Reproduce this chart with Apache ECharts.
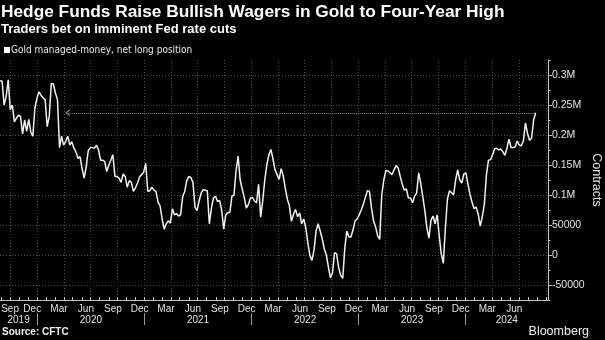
<!DOCTYPE html>
<html><head><meta charset="utf-8">
<script src="https://cdn.jsdelivr.net/npm/echarts@6/dist/echarts.min.js"></script>
<style>html,body{margin:0;padding:0;background:#000;}#c{width:605px;height:340px;}</style>
</head><body><div id="c"></div>
<script>
const titleText = 'Hedge Funds Raise Bullish Wagers in Gold to Four-Year High';
const subtitleText = 'Traders bet on imminent Fed rate cuts';
const seriesName = 'Gold managed-money, net long position';
const sourceText = 'Source: CFTC';
const brandText = 'Bloomberg';
const yAxisName = 'Contracts';

// Weekly CFTC report dates start here (Tuesdays), one value per week
const firstReport = [2019, 8, 27];
// Net long position, thousands of contracts
const netLongK = [
 290,290,250,264,292,242,250,222,228,233,231,202,225,206,226,205,198,245,261,272,
 266,262,259,214,231,286,285,270,259,179,198,183,189,198,183,189,178,172,161,164,
 144,128,147,174,179,179,178,183,175,158,158,156,139,150,158,167,131,131,128,121,
 135,131,113,124,121,106,112,120,130,134,138,153,106,107,113,108,106,88,82,60,
 43,52,57,53,77,67,69,65,67,97,106,124,131,129,121,80,74,90,103,109,
 108,107,52,78,95,98,89,91,75,43,67,71,71,98,100,140,165,125,110,96,
 78,84,95,96,90,87,118,63,90,125,150,167,176,160,142,134,126,144,132,111,
 93,82,56,68,76,64,70,52,60,45,20,-1,-9,8,40,52,40,27,10,0,
 -20,-38,-30,4,2,-21,-34,-39,12,40,30,30,42,57,60,67,75,84,96,107,
 106,78,57,47,32,26,100,125,141,140,137,134,142,149,145,131,118,108,110,95,
 95,87,98,103,137,119,97,74,45,28,58,65,52,67,32,2,-14,45,93,107,
 104,100,125,142,125,120,135,137,118,101,88,77,80,68,48,64,85,134,158,159,
 167,177,178,175,177,172,166,178,193,179,179,180,190,183,182,190,220,203,191,195,
 225,237
];

const axisStart = [2019, 8, 27];
const axisEnd = [2024, 10, 8];

const quarterLabelDates = [
 [2019,9,15],[2019,12,15],[2020,3,15],[2020,6,15],[2020,9,15],[2020,12,15],
 [2021,3,15],[2021,6,15],[2021,9,15],[2021,12,15],[2022,3,15],[2022,6,15],
 [2022,9,15],[2022,12,15],[2023,3,15],[2023,6,15],[2023,9,15],[2023,12,15],
 [2024,3,15],[2024,6,15]
];
const monthAbbr = ['Jan','Feb','Mar','Apr','May','Jun','Jul','Aug','Sep','Oct','Nov','Dec'];
const yearLabels = [2019, 2020, 2021, 2022, 2023, 2024];

const yTickValues = [-50, 0, 50, 100, 150, 200, 250, 300];
const yTickLabels = ['-50000', '0', '50000', '0.1M', '0.15M', '0.2M', '0.25M', '0.3M'];
const yMinK = -75, yMaxK = 325, yMinorStepK = 25;

const highLevelK = 237;
const highArrowFrom = [2020, 4, 14];

// ---- helpers ----
const ts = (a) => new Date(a[0], a[1] - 1, a[2]).getTime();
const tMin = ts(axisStart), tMax = ts(axisEnd);
const reportTimes = netLongK.map((_, i) => new Date(firstReport[0], firstReport[1] - 1, firstReport[2] + 7 * i).getTime());
const seriesData = netLongK.map((v, i) => [reportTimes[i], v]);

const monthStarts = [];
const quarterStarts = [];
for (let y = 2019; y <= 2024; y++) {
  for (let m = 0; m < 12; m++) {
    const t = new Date(y, m, 1).getTime();
    if (t < tMin || t > tMax) continue;
    monthStarts.push(t);
    if (m % 3 === 0) quarterStarts.push(t);
  }
}
const yearStarts = yearLabels.slice(1).map(y => new Date(y, 0, 1).getTime());
const yearMids = yearLabels.map(y => {
  const a = Math.max(new Date(y, 0, 1).getTime(), tMin);
  const b = Math.min(new Date(y + 1, 0, 1).getTime(), tMax);
  return (a + b) / 2;
});
const quarterLabelTimes = quarterLabelDates.map(ts);

const axisColor = '#c4c4c4';
const labelColor = '#e2e2e2';
const gridColor = '#4a4a4a';
const baseFont = "'Liberation Sans', Arial, sans-serif";
const narrowFont = "'Liberation Sans Narrow', 'Arial Narrow', 'DejaVu Sans Condensed', sans-serif";

const chart = echarts.init(document.getElementById('c'), null, {renderer: 'canvas'});
chart.setOption({
  animation: false,
  backgroundColor: '#000',
  title: [
    {text: titleText, left: 1, top: 4, padding: 0,
     textStyle: {color: '#fff', fontSize: 17.3, fontWeight: 'bold', fontFamily: baseFont}},
    {text: subtitleText, left: 1, top: 23, padding: 0,
     textStyle: {color: '#fff', fontSize: 13, fontWeight: 'bold', fontFamily: baseFont}},
    {text: sourceText, left: 2, top: 327, padding: 0,
     textStyle: {color: '#f0f0f0', fontSize: 10, fontWeight: 'bold', fontFamily: baseFont}},
    {text: brandText, right: 16, top: 325, padding: 0,
     textStyle: {color: '#f0f0f0', fontSize: 12.5, fontWeight: 'normal', fontFamily: baseFont}}
  ],
  legend: {
    data: [seriesName], left: 4, top: 45, padding: 0,
    icon: 'rect', itemWidth: 6, itemHeight: 6,
    textStyle: {color: '#e8e8e8', fontSize: 10, fontFamily: narrowFont, padding: [0, 0, 0, -4]}
  },
  grid: {left: 0, right: 57, top: 60, bottom: 40, containLabel: false, outerBoundsMode: 'none'},
  xAxis: [
    {
      type: 'value', min: tMin, max: tMax, position: 'bottom', scale: true,
      axisLine: {show: true, onZero: false, lineStyle: {color: axisColor, width: 1}},
      axisTick: {show: true, inside: true, length: 3, customValues: monthStarts, lineStyle: {color: axisColor}},
      axisLabel: {
        show: true, customValues: quarterLabelTimes, margin: 4,
        color: labelColor, fontSize: 10, fontFamily: baseFont,
        formatter: (v) => {
          const name = monthAbbr[new Date(v).getMonth()];
          return v === quarterLabelTimes[0] ? '{first|' + name + '}' : name;
        },
        rich: {first: {color: labelColor, fontSize: 10, fontFamily: baseFont, padding: [0, 0, 0, 9]}}
      },
      splitLine: {show: false}
    },
    {
      type: 'value', min: tMin, max: tMax, position: 'bottom', scale: true,
      axisLine: {show: false, onZero: false},
      axisTick: {show: false, customValues: quarterStarts},
      axisLabel: {show: false},
      splitLine: {show: true, lineStyle: {color: gridColor, type: [1, 2], width: 1}}
    },
    {
      type: 'value', min: tMin, max: tMax, position: 'bottom', offset: 13, scale: true,
      axisLine: {show: false, onZero: false},
      axisTick: {show: true, length: 12, customValues: yearStarts, lineStyle: {color: '#9a9a9a', width: 1}},
      axisLabel: {
        show: true, customValues: yearMids, margin: 2,
        color: labelColor, fontSize: 10, fontFamily: baseFont,
        formatter: (v) => String(new Date(v).getFullYear())
      },
      splitLine: {show: false}
    }
  ],
  yAxis: [
    {
      type: 'value', position: 'right', min: yMinK, max: yMaxK,
      name: yAxisName, nameLocation: 'middle', nameRotate: -90, nameGap: 42, nameMoveOverlap: false,
      nameTextStyle: {color: labelColor, fontSize: 12.5, fontFamily: baseFont},
      axisLine: {show: true, onZero: false, lineStyle: {color: axisColor, width: 1}},
      axisTick: {show: true, length: 4, customValues: yTickValues, lineStyle: {color: axisColor}},
      axisLabel: {
        show: true, customValues: yTickValues, margin: 4,
        color: labelColor, fontSize: 10.5, fontFamily: baseFont,
        formatter: (v) => { const k = yTickValues.indexOf(v); return k >= 0 ? yTickLabels[k] : ''; }
      },
      splitLine: {show: true, lineStyle: {color: gridColor, type: [1, 2], width: 1}}
    },
    {
      type: 'value', position: 'right', min: yMinK, max: yMaxK, interval: yMinorStepK,
      axisLine: {show: false, onZero: false},
      axisTick: {show: true, length: 2.5, lineStyle: {color: axisColor}},
      axisLabel: {show: false},
      splitLine: {show: false}
    }
  ],
  series: [
    {
      name: seriesName, type: 'line', xAxisIndex: 0, yAxisIndex: 0,
      data: seriesData, showSymbol: false, symbol: 'none',
      itemStyle: {color: '#ffffff'},
      lineStyle: {color: '#f2f2f2', width: 1.5},
      markLine: {
        silent: true, animation: false,
        label: {show: false},
        lineStyle: {color: '#7db02c', type: [1, 1], width: 1},
        data: [[
          {coord: [ts(highArrowFrom), highLevelK], symbol: 'path://M0,9 L5,0 L10,9 L8.6,10 L5,3.4 L1.4,10 Z', symbolSize: [7, 5]},
          {coord: [reportTimes[reportTimes.length - 1], highLevelK], symbol: 'none'}
        ]]
      }
    }
  ]
});
</script>
</body></html>
